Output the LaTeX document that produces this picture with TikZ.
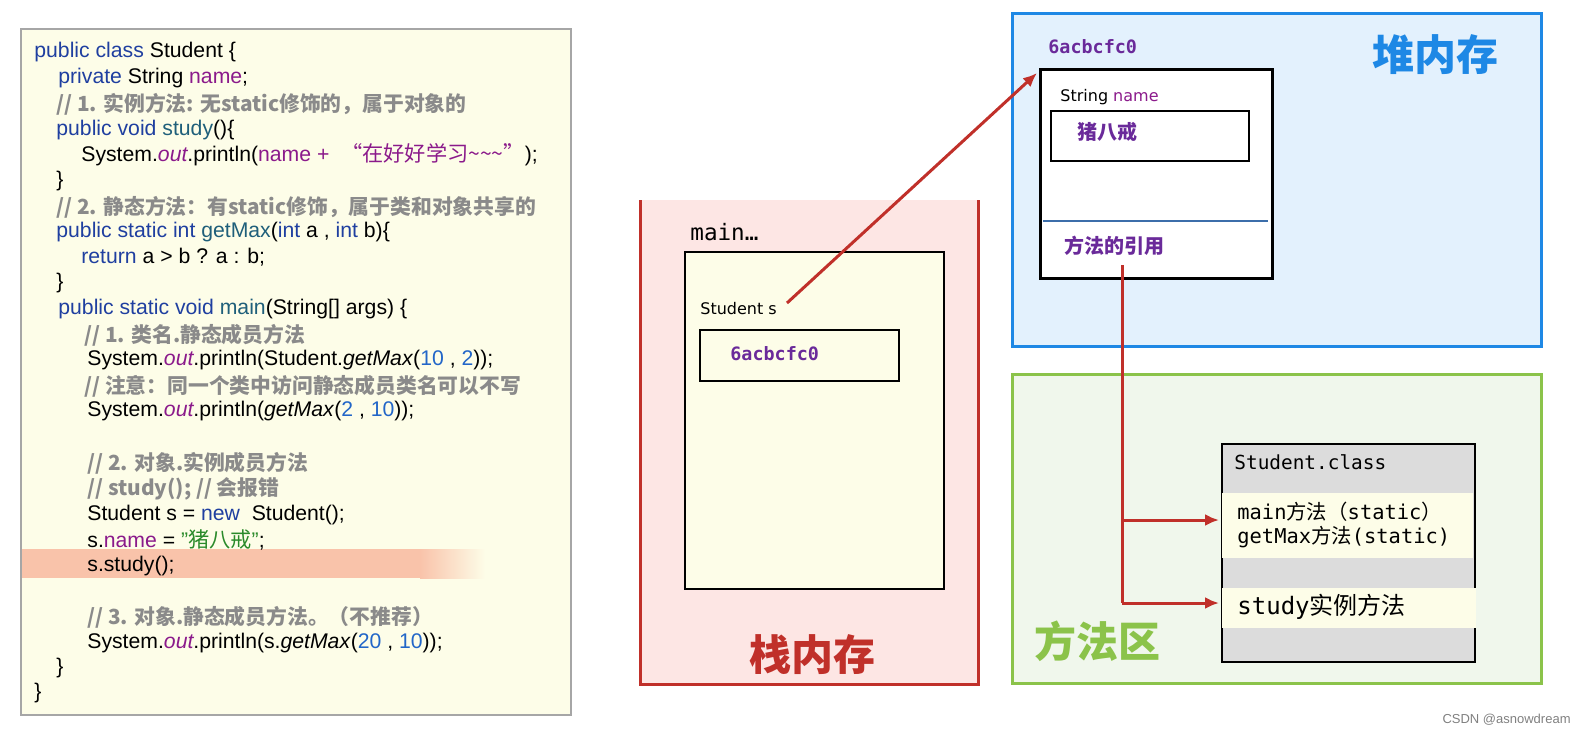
\documentclass[tikz,border=0pt]{standalone}
\usepackage{fontspec}
\setmainfont{Liberation Sans}
\newfontfamily\cj{Noto Sans CJK SC}
\newfontfamily\dvs{DejaVu Sans}
\newfontfamily\mono{DejaVu Sans Mono}
\definecolor{kw}{HTML}{1F3FA0}
\definecolor{fn}{HTML}{1F5F7A}
\definecolor{nm}{HTML}{8B1A8B}
\definecolor{cm}{HTML}{8A8A8A}
\definecolor{num}{HTML}{2266C8}
\definecolor{st}{HTML}{2A8A2A}
\definecolor{rd}{HTML}{C0302A}
\definecolor{pu}{HTML}{6A2A9A}
\definecolor{hl}{RGB}{249,195,170}
\definecolor{cream}{RGB}{253,253,232}
\definecolor{pink}{RGB}{253,230,228}
\definecolor{hblue}{RGB}{30,136,229}
\definecolor{hfill}{RGB}{227,241,253}
\definecolor{divl}{RGB}{60,110,170}
\definecolor{mgreen}{RGB}{139,195,74}
\definecolor{mfill}{RGB}{240,247,236}
\definecolor{cgray}{RGB}{220,220,220}
\usetikzlibrary{arrows.meta}
\tikzset{code/.style={anchor=west,inner sep=0,font=\fontsize{10.6}{11}\selectfont},
 cmt/.style={anchor=west,inner sep=0,font=\cj\bfseries\fontsize{10.4}{11}\selectfont,text=cm},
 lbl/.style={anchor=west,inner sep=0},
 big/.style={inner sep=0,font=\cj\bfseries\fontsize{21}{22}\selectfont},
 arr/.style={draw=rd,line width=1.5pt,-{Latex[length=7pt,width=6pt]}}}
\begin{document}
\begin{tikzpicture}[x=0.5pt,y=-0.5pt]
\useasboundingbox (0,0) rectangle (1575,730);
% code box
\node[draw=gray!70,fill=cream,minimum width=275pt,minimum height=343pt,inner sep=0,anchor=north west,line width=0.8pt] (codebox) at (20,28) {};
\fill[hl] (22,549) rectangle (420,578);
\shade[left color=hl,right color=cream] (420,549) rectangle (485,578);
\node[code] (l1) at (34,52) {\color{kw}public class \color{black}Student \{};
\node[code] (l2) at (58,78) {\color{kw}private \color{black}String \color{nm}name\color{black};};
\node[cmt] (l3) at (56,104) {// 1. 实例方法: 无static修饰的，属于对象的};
\node[code] (l4) at (56,130) {\color{kw}public void \color{fn}study\color{black}()\{};
\node[code] (l5) at (81,155) {System.\textit{\color{nm}out}.println(\color{nm}name + \ {\cj “在好好学习\textasciitilde\textasciitilde\textasciitilde”}\color{black});};
\node[code] (l6) at (56,181) {\}};
\node[cmt] (l7) at (56,207) {// 2. 静态方法：有static修饰，属于类和对象共享的};
\node[code] (l8) at (56,232) {\color{kw}public static int \color{fn}getMax\color{black}(\color{kw}int \color{black}a , \color{kw}int \color{black}b)\{};
\node[code] (l9) at (81,257) {\color{kw}return \color{black}a > b ? a : b;};
\node[code] (l10) at (56,283) {\}};
\node[code] (l11) at (58,309) {\color{kw}public static void \color{fn}main\color{black}(String[] args) \{};
\node[cmt] (l12) at (84,335) {// 1. 类名.静态成员方法};
\node[code] (l13) at (87,360) {System.\textit{\color{nm}out}.println(Student.\textit{getMax}(\color{num}10 \color{black}, \color{num}2\color{black}));};
\node[cmt] (l14) at (84,386) {// 注意：同一个类中访问静态成员类名可以不写};
\node[code] (l15) at (87,411) {System.\textit{\color{nm}out}.println(\textit{getMax}(\color{num}2 \color{black}, \color{num}10\color{black}));};
\node[cmt] (l16) at (87,463) {// 2. 对象.实例成员方法};
\node[cmt] (l17) at (87,489) {// study(); // 会报错};
\node[code] (l18) at (87,515) {Student s = \color{kw}new \ \color{black}Student();};
\node[code] (l19) at (87,540) {s.\color{nm}name \color{black}= \color{st}"{\cj 猪八戒}"\color{black};};
\node[code] (l20) at (87,566) {s.study();};
\node[cmt] (l21) at (87,617) {// 3. 对象.静态成员方法。（不推荐）};
\node[code] (l22) at (87,643) {System.\textit{\color{nm}out}.println(s.\textit{getMax}(\color{num}20 \color{black}, \color{num}10\color{black}));};
\node[code] (l23) at (56,668) {\}};
\node[code] (l24) at (34,693) {\}};
% stack
\fill[pink] (640,200) rectangle (978,684);
\draw[rd,line width=1.5pt] (640,200) -- (640,684) -- (978,684) -- (978,200);
\node[draw=black,line width=0.8pt,fill=cream,minimum width=129.5pt,minimum height=168.5pt,inner sep=0,anchor=north west] (frame) at (684,251) {};
\node[lbl,font=\mono\fontsize{11.3}{12}\selectfont] (mainlbl) at (690,232) {main…};
\node[lbl,font=\dvs\fontsize{8}{10}\selectfont] (svar) at (700,309) {Student s};
\node[draw=black,line width=1pt,minimum width=99.5pt,minimum height=25.5pt,inner sep=0,anchor=north west] (sbox) at (699,329) {};
\node[lbl,font=\mono\bfseries\fontsize{9.2}{10}\selectfont,text=pu] (sval) at (730,354) {6acbcfc0};
\node[big,text=rd] (stk) at (812,655) {栈内存};
% heap
\node[draw=hblue,line width=1.6pt,fill=hfill,minimum width=264.5pt,minimum height=166.5pt,inner sep=0,anchor=north west] (heap) at (1011,12) {};
\node[lbl,font=\mono\bfseries\fontsize{9.2}{10}\selectfont,text=pu] (addr) at (1048,47) {6acbcfc0};
\node[big,text=hblue] (heaplbl) at (1435,55) {堆内存};
\node[draw=black,line width=1.5pt,fill=white,minimum width=116pt,minimum height=104.5pt,inner sep=0,anchor=north west] (obj) at (1039,68) {};
\node[lbl,font=\dvs\fontsize{8}{10}\selectfont] (sname) at (1060,97) {String \textcolor{nm}{name}};
\node[draw=black,line width=1pt,minimum width=99pt,minimum height=25pt,inner sep=0,anchor=north west] (namebox) at (1050,110) {};
\node[lbl,font=\cj\bfseries\fontsize{10}{11}\selectfont,text=pu] (nval) at (1077,132) {猪八戒};
\draw[divl,line width=1pt] (1043,221) -- (1268,221);
\node[lbl,font=\cj\bfseries\fontsize{10}{11}\selectfont,text=pu] (mref) at (1064,246) {方法的引用};
% method area
\node[draw=mgreen,line width=1.6pt,fill=mfill,minimum width=264.5pt,minimum height=154.5pt,inner sep=0,anchor=north west] (marea) at (1011,373) {};
\node[big,text=mgreen] (malbl) at (1097,641) {方法区};
\node[draw=black,line width=0.8pt,fill=cgray,minimum width=126.5pt,minimum height=109pt,inner sep=0,anchor=north west] (cls) at (1221,443) {};
\fill[cream] (1222,493) rectangle (1473,558);
\fill[cream] (1222,588) rectangle (1476,628);
\node[lbl,font=\mono\fontsize{9.7}{10}\selectfont] (clsname) at (1234,462) {Student.class};
\node[lbl,font=\mono\fontsize{10.2}{11}\selectfont] (m1) at (1237,512) {main{\cj 方法（}static{\cj ）}};
\node[lbl,font=\mono\fontsize{10.2}{11}\selectfont] (m2) at (1237,537) {getMax{\cj 方法}(static)};
\node[lbl,font=\mono\fontsize{12}{13}\selectfont] (m3) at (1237,607) {study{\cj 实例方法}};
% arrows
\coordinate (sfrom) at (787,303);
\coordinate (oto) at (1037,73);
\draw[arr] (sfrom) -- (oto);
\coordinate (rtop) at (1122,265);
\coordinate (rbot) at (1122,603);
\coordinate (t1) at (1219,520);
\coordinate (t2) at (1219,603);
\draw[rd,line width=1.5pt] (rtop) -- (rbot);
\draw[arr] (1122,520) -- (t1);
\draw[arr] (rbot) -- (t2);
\node[anchor=south east,inner sep=2pt,font=\fontsize{6.5}{8}\selectfont,text=gray] (wm) at (1575,730) {CSDN @asnowdream};
\end{tikzpicture}
\end{document}
